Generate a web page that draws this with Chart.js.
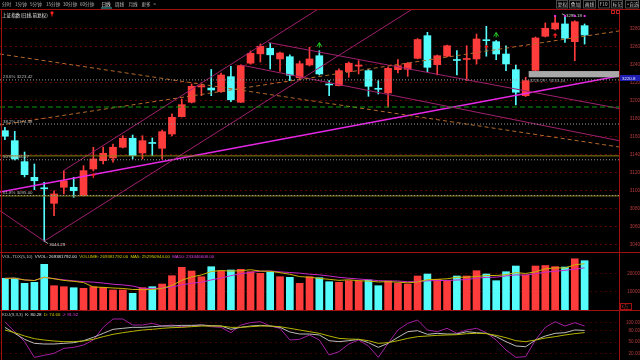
<!DOCTYPE html>
<html>
<head>
<meta charset="utf-8">
<script src="https://cdn.jsdelivr.net/npm/chart.js@4.4.1/dist/chart.umd.min.js"></script>
<style>
  body { margin: 0; background: #000; }
  #wrap { position: relative; width: 640px; height: 360px; overflow: hidden; background: #000; }
  #wrap canvas { position: absolute; left: 0; }
</style>
</head>
<body>
<div id="wrap">
  <canvas id="priceChart" width="640" height="243" style="top:9px"></canvas>
  <canvas id="volChart" width="640" height="57" style="top:253px"></canvas>
  <canvas id="kdjChart" width="640" height="49" style="top:311px"></canvas>
  <canvas id="frame" width="640" height="360" style="top:0"></canvas>
</div>
<script>
// daily candles, index 0..59 (oldest -> newest)
const opens = [3167.0, 3155.9, 3132.6, 3115.2, 3103.6, 3086.3, 3104.1, 3104.1, 3094.8, 3124.4,
  3133.7, 3136.7, 3148.6, 3158.6, 3142.2, 3153.6, 3147.4, 3163.3, 3182.6, 3198.6,
  3215.6, 3214.4, 3210.3, 3227.0, 3198.6, 3242.0, 3252.4, 3258.6, 3246.7, 3249.2,
  3225.8, 3240.0, 3250.3, 3218.9, 3217.0, 3232.6, 3238.7, 3233.7, 3213.7, 3208.9,
  3234.8, 3235.2, 3247.4, 3272.6, 3240.3, 3249.7, 3245.8, 3246.1, 3246.7, 3268.1,
  3265.9, 3252.2, 3234.8, 3205.9, 3234.0, 3271.9, 3280.0, 3285.6, 3265.9, 3283.7];
const highs = [3170.8, 3166.3, 3143.3, 3130.0, 3109.7, 3100.3, 3122.6, 3115.2, 3128.1, 3148.6,
  3148.9, 3152.2, 3161.4, 3162.2, 3161.4, 3158.9, 3167.8, 3185.6, 3202.2, 3218.9,
  3218.9, 3235.0, 3231.1, 3238.6, 3240.0, 3255.6, 3263.3, 3264.2, 3254.4, 3251.4,
  3244.4, 3259.7, 3255.9, 3222.6, 3235.6, 3243.3, 3244.8, 3235.0, 3222.6, 3237.8,
  3245.9, 3242.8, 3269.4, 3276.3, 3251.1, 3262.2, 3255.9, 3261.4, 3274.4, 3283.0,
  3267.2, 3261.4, 3240.0, 3226.29, 3271.1, 3286.7, 3294.8, 3295.18, 3289.2, 3285.6];
const lows = [3157.0, 3134.4, 3115.6, 3101.4, 3044.29, 3072.6, 3096.7, 3093.0, 3094.5, 3122.2,
  3130.0, 3131.9, 3147.8, 3135.6, 3135.6, 3139.2, 3135.6, 3161.1, 3182.2, 3197.8,
  3205.9, 3205.9, 3209.4, 3199.2, 3198.3, 3241.1, 3243.3, 3235.6, 3232.8, 3222.6,
  3224.4, 3238.9, 3228.9, 3205.9, 3216.7, 3226.3, 3230.0, 3205.2, 3207.8, 3193.0,
  3231.1, 3227.4, 3246.7, 3232.6, 3228.9, 3248.9, 3228.9, 3222.6, 3241.1, 3249.7,
  3245.9, 3233.7, 3195.6, 3205.0, 3233.24, 3271.1, 3278.9, 3265.2, 3244.8, 3263.3];
const closes = [3160.8, 3135.6, 3118.1, 3111.4, 3102.4, 3096.7, 3111.4, 3100.3, 3122.6, 3135.6,
  3141.9, 3148.6, 3158.6, 3139.2, 3155.9, 3152.8, 3165.9, 3181.9, 3195.9, 3216.3,
  3217.0, 3212.2, 3228.9, 3201.3, 3239.4, 3253.0, 3260.8, 3251.3, 3253.3, 3228.6,
  3241.4, 3246.7, 3230.0, 3217.8, 3233.7, 3241.9, 3239.7, 3216.3, 3213.0, 3236.3,
  3239.2, 3241.9, 3268.3, 3237.4, 3250.3, 3261.4, 3245.0, 3247.2, 3268.9, 3267.0,
  3252.2, 3241.1, 3209.7, 3222.6, 3270.0, 3280.8, 3286.7, 3269.7, 3288.1, 3273.3];
// volume in units of 10k shares
const volumes = [17320, 17400, 14590, 15130, 24970, 13280, 12730, 12180, 11860, 12730,
  12400, 10930, 10930, 9120, 12180, 12730, 14210, 18740, 23330, 21310,
  18200, 23660, 21310, 21860, 22240, 20930, 20050, 20600, 18200, 17870,
  14590, 18200, 17650, 15460, 15130, 16010, 15850, 16390, 13280, 15850,
  14590, 14210, 18580, 19670, 16770, 16010, 18580, 18580, 21470, 19670,
  16010, 20930, 24040, 19120, 24040, 24300, 23700, 23500, 28000, 26938];
const kVals = [88.1, 72.7, 57.4, 47.1, 45.4, 45.4, 47.1, 48.8, 53.9, 62.5,
  72.7, 83.0, 85.6, 88.1, 88.1, 89.8, 91.5, 91.5, 93.2, 93.2,
  94.1, 92.4, 91.5, 83.0, 88.1, 91.5, 93.2, 91.5, 88.1, 76.2,
  71.0, 71.0, 68.5, 53.9, 51.4, 53.9, 57.4, 48.8, 36.8, 47.1,
  62.5, 77.0, 79.6, 70.2, 72.7, 71.0, 71.0, 77.0, 74.4, 72.7,
  64.2, 51.4, 40.3, 38.5, 55.6, 65.9, 72.7, 74.4, 81.3, 80.28];
const dVals = [81.3, 74.4, 65.9, 59.1, 55.6, 53.1, 51.4, 51.4, 53.1, 57.4,
  64.2, 70.2, 74.4, 77.9, 81.3, 83.0, 85.6, 87.3, 88.1, 89.8,
  91.5, 91.5, 91.5, 88.1, 88.1, 89.8, 91.5, 91.5, 89.8, 85.6,
  81.3, 77.0, 72.7, 65.9, 59.9, 58.2, 57.4, 53.9, 47.1, 48.8,
  53.9, 59.9, 64.2, 65.9, 67.6, 68.5, 69.3, 71.9, 72.7, 71.9,
  67.6, 61.6, 53.9, 51.4, 55.6, 60.7, 64.2, 68.5, 71.9, 74.66];
const jVals = [102.6, 77.0, 51.4, 11.2, 16.4, 21.5, 34.3, 36.8, 42.8, 55.6,
  88.1, 109.5, 109.5, 94.1, 94.1, 98.4, 91.5, 94.1, 89.8, 91.5,
  94.1, 89.8, 88.1, 74.4, 94.1, 100.1, 102.6, 91.5, 85.6, 55.6,
  57.4, 68.5, 55.6, 17.2, 25.7, 45.4, 55.6, 40.3, 11.2, 47.1,
  81.3, 98.4, 106.9, 81.3, 77.0, 85.6, 72.7, 81.3, 85.6, 74.4,
  55.6, 30.0, 11.2, 12.9, 55.6, 88.1, 102.6, 91.5, 100.1, 91.52];

// axis ticks
const priceTicks = [3040, 3060, 3080, 3100, 3120, 3140, 3160, 3180, 3200, 3220, 3240, 3260, 3280];
const volTicks = [10000, 20000];
const kdjTicks = [20, 50, 80, 100];

// drawn objects on the price panel
const fibNames = ['23.6%', '38.2%', '50%', '61.8%'];
const fibLevels = [3223.42, 3174.38, 3134.67, 3095.00];
const greenLevel = 3193.3;
const oliveLevels = [3139.0, 3094.5];
const orangeLines = [[[-0.5, 3252.2], [62.5, 3148.9]], [[-0.5, 3173.3], [62.5, 3277.8]]];
const supportLine = [[-0.5, 3098.9], [62.5, 3227.8]];
const channelLines = [
  [[4, 3044.29], [41.7, 3303.7]],
  [[5.9, 3122.2], [32.1, 3303.7]],
  [[-0.5, 3078.1], [4, 3044.29]],
  [[26.8, 3265.0], [62.5, 3191.7]],
  [[24, 3240.0], [62.5, 3155.9]]
];
const gapFrom = 53, gapLow = 3226.29, gapHigh = 3233.24;
const lowIdx = 4, highIdx = 57;
const redMarks = [9, 49, 56];
const greenMarks = [32, 50];
const topDots = [56, 57, 58, 59];
const lineTag = '3220.8';

const UP = '#ff3c3c', DOWN = '#54fcfc';
const candleColors = closes.map((c, i) => c >= opens[i] ? UP : DOWN);
const AXIS_RED = '#b43c3c';
const FRAME_RED = '#a01010';
const FONT = '"Liberation Sans", Arial, sans-serif';
const CJK = '"Noto Sans CJK SC", sans-serif';

function movingAvg(arr, n) {
  return arr.map((v, i) => {
    const s = arr.slice(Math.max(0, i - n + 1), i + 1);
    return s.reduce((a, b) => a + b, 0) / s.length;
  });
}

function seg(points, color, dash, width) {
  return {
    type: 'line', data: points.map(p => ({ x: p[0], y: p[1] })),
    borderColor: color, borderWidth: width || 1, borderDash: dash || [],
    pointRadius: 0, fill: false, order: 0, tension: 0
  };
}

function rightAxis(ticks, min, max, pad, fmt, gridColor) {
  return {
    position: 'right', min: min, max: max,
    afterBuildTicks: s => { s.ticks = ticks.map(v => ({ value: v })); },
    afterFit: s => { s.width = 21; s.paddingTop = 0; s.paddingBottom = 0; },
    ticks: { color: AXIS_RED, font: { size: 4.6, family: FONT }, padding: pad, crossAlign: 'far', callback: fmt },
    grid: { color: gridColor, drawTicks: false, lineWidth: 1 },
    border: { display: true, color: FRAME_RED, width: 1, dash: [2, 3] }
  };
}

const xAxis = { type: 'linear', min: -0.5, max: 62.5, offset: false, display: false };
const baseOpts = {
  responsive: false, animation: false, events: [],
  layout: { padding: 0 },
  plugins: { legend: { display: false }, tooltip: { enabled: false } }
};

// ---------- price panel ----------
const idx = opens.map((_, i) => i);
const priceSets = [
  { type: 'bar', data: idx.map(i => ({ x: i, y: [lows[i], highs[i]] })), backgroundColor: candleColors,
    barThickness: 1, grouped: false, order: 5, minBarLength: 1 },
  { type: 'bar', data: idx.map(i => ({ x: i, y: [opens[i], closes[i]] })), backgroundColor: candleColors,
    barThickness: 7, grouped: false, order: 4, minBarLength: 1 }
];
fibLevels.forEach(v => priceSets.push(seg([[-0.5, v], [62.5, v]], '#9a9a9a', [1, 2])));
oliveLevels.forEach(v => priceSets.push(seg([[-0.5, v], [62.5, v]], '#8c8214')));
priceSets.push(seg([[-0.5, greenLevel], [62.5, greenLevel]], '#0a9a0a', [5, 3]));
orangeLines.forEach(l => priceSets.push(seg(l, '#b4692a', [4, 3])));
channelLines.forEach(l => priceSets.push(seg(l, '#a0206e')));
priceSets.push(seg(supportLine, '#e628e6', [], 1.4));

const priceOverlay = {
  id: 'priceOverlay',
  afterDatasetsDraw(chart) {
    const { ctx, chartArea: a, scales: { x, y } } = chart;
    ctx.save();
    ctx.font = '4.4px ' + FONT;
    ctx.textBaseline = 'alphabetic';
    // fibonacci labels
    fibLevels.forEach((v, k) => {
      ctx.fillStyle = '#bdbdbd';
      ctx.fillText(fibNames[k] + ' ' + v.toFixed(2), a.left + 3, y.getPixelForValue(v) - 1.5);
    });
    // price gap box
    const gx = x.getPixelForValue(gapFrom) + 3;
    const gy1 = y.getPixelForValue(gapHigh), gy2 = y.getPixelForValue(gapLow);
    ctx.fillStyle = '#a9a9a9';
    ctx.fillRect(gx, gy1, a.right - gx, gy2 - gy1);
    ctx.fillStyle = '#9a9a9a';
    ctx.fillText(gapLow.toFixed(2) + ' - ' + gapHigh.toFixed(2), gx + 1, gy2 + 5);
    // lowest / highest labels
    const lx = x.getPixelForValue(lowIdx), ly = y.getPixelForValue(lows[lowIdx]);
    ctx.strokeStyle = '#cfcfcf'; ctx.lineWidth = 0.8;
    ctx.beginPath(); ctx.moveTo(lx, ly); ctx.lineTo(lx + 4, ly + 2.5); ctx.stroke();
    ctx.fillStyle = '#d8d8d8';
    ctx.fillText(lows[lowIdx].toFixed(2), lx + 5, ly + 4.5);
    const hx = x.getPixelForValue(highIdx), hy = y.getPixelForValue(highs[highIdx]);
    ctx.beginPath(); ctx.moveTo(hx, hy); ctx.lineTo(hx - 3, hy - 1.5); ctx.stroke();
    ctx.fillText(highs[highIdx].toFixed(2), hx + 1, hy + 2);
    // signal marks
    redMarks.forEach(i => {
      const px = x.getPixelForValue(i), py = y.getPixelForValue(Math.min(opens[i], closes[i])) + 4;
      ctx.fillStyle = '#ff2020';
      ctx.beginPath(); ctx.moveTo(px, py); ctx.lineTo(px - 2.5, py + 2.5); ctx.lineTo(px + 2.5, py + 2.5); ctx.fill();
      ctx.fillRect(px - 0.6, py + 2, 1.2, 3);
    });
    greenMarks.forEach(i => {
      const px = x.getPixelForValue(i), py = y.getPixelForValue(highs[i]) - 8;
      ctx.strokeStyle = '#20d020'; ctx.lineWidth = 1;
      ctx.beginPath(); ctx.moveTo(px - 2.5, py + 4); ctx.lineTo(px, py); ctx.lineTo(px + 2.5, py + 4); ctx.stroke();
      ctx.beginPath(); ctx.moveTo(px, py); ctx.lineTo(px, py + 5); ctx.stroke();
    });
    topDots.forEach(i => {
      ctx.fillStyle = '#e030e0';
      ctx.fillRect(x.getPixelForValue(i) - 1, a.top + 6, 2, 2);
    });
    // tag of the support line at the right axis
    const ty = y.getPixelForValue(supportLine[1][1]);
    ctx.fillStyle = '#1e1eb4';
    ctx.fillRect(a.right + 1, ty - 1, 20, 6);
    ctx.fillStyle = '#e8e8ff';
    ctx.fillText(lineTag, a.right + 3, ty + 3.6);
    ctx.restore();
  }
};

new Chart(document.getElementById('priceChart'), {
  type: 'bar',
  data: { datasets: priceSets },
  options: Object.assign({}, baseOpts, {
    scales: {
      x: xAxis,
      y: rightAxis(priceTicks, 3032.2, 3302.2, 9, v => String(v), 'rgba(110,0,0,0.85)')
    }
  }),
  plugins: [priceOverlay]
});

// ---------- volume panel ----------
new Chart(document.getElementById('volChart'), {
  type: 'bar',
  data: {
    datasets: [
      seg(idx.map(i => [i, movingAvg(volumes, 5)[i]]), '#c8b400'),
      seg(idx.map(i => [i, movingAvg(volumes, 10)[i]]), '#c828c8'),
      { type: 'bar', data: idx.map(i => ({ x: i, y: volumes[i] })), backgroundColor: candleColors,
        barThickness: 7, grouped: false, order: 3 }
    ]
  },
  options: Object.assign({}, baseOpts, {
    scales: {
      x: xAxis,
      y: rightAxis(volTicks, 0, 31150, 6, v => String(v), 'rgba(90,0,0,0.7)')
    }
  })
});

// ---------- KDJ panel ----------
new Chart(document.getElementById('kdjChart'), {
  type: 'line',
  data: {
    datasets: [
      seg(idx.map(i => [i, dVals[i]]), '#b4b400'),
      seg(idx.map(i => [i, kVals[i]]), '#bcbcbc'),
      seg(idx.map(i => [i, jVals[i]]), '#a020a0')
    ]
  },
  options: Object.assign({}, baseOpts, {
    scales: {
      x: xAxis,
      y: rightAxis(kdjTicks, 4.4, 130, 4, v => v.toFixed(2), 'rgba(90,0,0,0.7)')
    }
  })
});

// ---------- frame, toolbar and legends ----------
const fc = document.getElementById('frame').getContext('2d');
fc.strokeStyle = FRAME_RED; fc.lineWidth = 1;
[[0, 9.5, 640, 9.5], [0, 252.5, 640, 252.5], [0, 310.5, 640, 310.5], [1.5, 9, 1.5, 360]].forEach(l => {
  fc.beginPath(); fc.moveTo(l[0], l[1]); fc.lineTo(l[2], l[3]); fc.stroke();
});

fc.font = '4.6px ' + CJK;
fc.textBaseline = 'alphabetic';
const tabs = ['分时', '1分钟', '5分钟', '15分钟', '30分钟', '60分钟', '日线', '周线', '月线', '更多', '>'];
const tabX = [2, 15, 30, 46, 63, 80, 101.5, 115, 128.5, 141.5, 153.5];
tabs.forEach((t, k) => {
  fc.fillStyle = t === '日线' ? '#e8e8e8' : '#b8b8b8';
  fc.fillText(t, tabX[k], 6);
});
fc.fillStyle = '#3cb4b4';
fc.fillRect(101, 7.5, 11, 1);

const btns = ['复权', '叠加', '画线', 'F10', '标记', '+自选'];
const btnX = [556, 569, 583, 598, 611, 625], btnW = [11, 11, 12, 11, 11, 13];
btns.forEach((b, k) => {
  fc.strokeStyle = '#4a4a4a';
  fc.strokeRect(btnX[k] + 0.5, 0.5, btnW[k], 7.5);
  fc.fillStyle = '#c8c8c8';
  fc.fillText(b, btnX[k] + 1.8, 6);
});

fc.fillStyle = '#e6e6e6';
fc.fillText('上证指数(日线,前复权)', 2, 16.5);
fc.fillStyle = '#ff2020';
fc.beginPath(); fc.arc(52, 12.8, 1.6, 0, Math.PI * 2); fc.fill();
fc.fillRect(51.5, 13, 1, 3.5);
fc.strokeStyle = '#c02020';
fc.strokeRect(611.5, 10.5, 3, 3);
fc.strokeRect(616.5, 10.5, 3, 3);

function legend(parts, x, y) {
  fc.font = '4.4px ' + FONT;
  parts.forEach(p => {
    fc.fillStyle = p[1];
    fc.fillText(p[0], x, y);
    x += fc.measureText(p[0]).width + 2.2;
  });
}
legend([['VOL-TDX(5,10)', '#bdbdbd'], ['VVOL: 269381792.00', '#e0e0e0'], ['VOLUME: 269381792.00', '#d2c800'],
  ['MA5: 252950944.00', '#d2c800'], ['MA10: 233446608.00', '#e040e0']], 2, 257.5);
legend([['KDJ(9,3,3)', '#bdbdbd'], ['K: 80.28', '#e0e0e0'], ['D: 74.66', '#d2c800'], ['J: 91.52', '#e040e0']], 2, 315.5);

fc.strokeStyle = FRAME_RED;
fc.strokeRect(620.5, 303.5, 11, 6);
fc.fillStyle = AXIS_RED;
fc.font = '4.4px ' + CJK;
fc.fillText('x万', 621.5, 308.3);
</script>
</body>
